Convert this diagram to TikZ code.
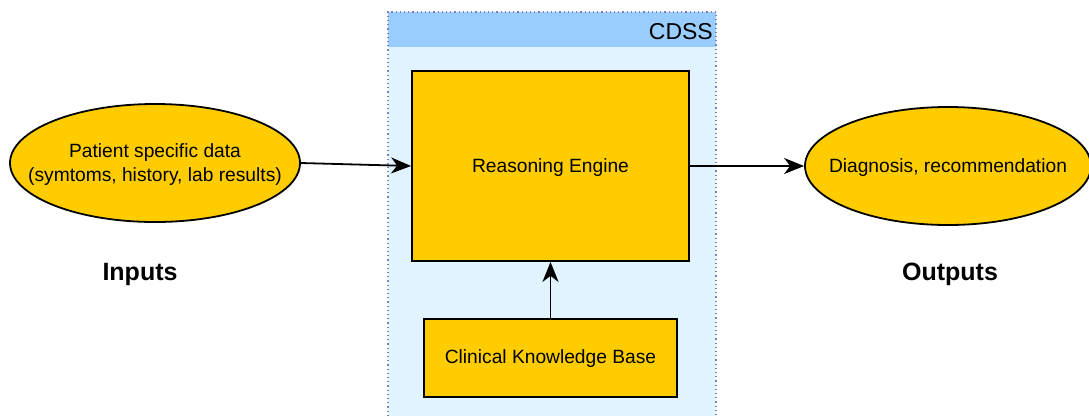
\documentclass[tikz,border=0pt]{standalone}
\usepackage{fontspec}
\setmainfont{Liberation Sans}
\usetikzlibrary{shapes.geometric,arrows.meta}
\definecolor{gold}{HTML}{FFCC00}
\definecolor{hdr}{HTML}{99CCFF}
\definecolor{bodyblue}{HTML}{E1F3FF}
\definecolor{dotc}{HTML}{7A7FB8}
\tikzset{
  txt/.style={font=\fontsize{19.2}{24}\selectfont,align=center,inner sep=0pt},
  box/.style={draw=black,fill=gold,line width=1.8pt,inner sep=0pt,txt},
  ell/.style={ellipse,draw=black,fill=gold,line width=1.8pt,inner sep=0pt},
  conn/.style={-{Stealth[length=20pt,width=16pt,inset=6pt]},line width=1.8pt},
  big/.style={font=\bfseries\fontsize{25}{28}\selectfont}
}
\begin{document}
\begin{tikzpicture}[x=1pt,y=-1pt]
\useasboundingbox (0,0) rectangle (1089,416);
% container
\fill[bodyblue] (388,12) rectangle (716,416);
\fill[hdr] (388,12) rectangle (716,47);
\draw[dotc,line width=1.2pt,dash pattern=on 1.2pt off 3pt] (388,416) -- (388,12) -- (716,12) -- (716,416);
\node[anchor=east,font=\fontsize{23}{26}\selectfont,inner sep=0pt] (cdss) at (713,32) {CDSS};
% nodes
\node[box,minimum width=277pt,minimum height=190pt] (re) at (550.5,166) {};
\node[txt] (retext) at (550.5,168) {Reasoning Engine};
\node[box,minimum width=253pt,minimum height=78pt] (kb) at (550.5,358) {};
\node[txt] (kbtext) at (550.5,359) {Clinical Knowledge Base};
\node[ell,minimum width=290pt,minimum height=118pt] (in) at (155,163) {};
\node[txt] (intext) at (155,165) {Patient specific data\\(symtoms, history, lab results)};
\node[ell,minimum width=286pt,minimum height=118pt] (out) at (948,166) {};
\node[txt] (outtext) at (948,168) {Diagnosis, recommendation};
\node[big] (inl) at (140,274) {Inputs};
\node[big] (outl) at (950,274) {Outputs};
% connectors
\draw[conn] (in.east) -- (re.west);
\draw[conn] (re.east) -- (out.west);
\draw[conn] (kb.north) -- (re.south);
\end{tikzpicture}
\end{document}
